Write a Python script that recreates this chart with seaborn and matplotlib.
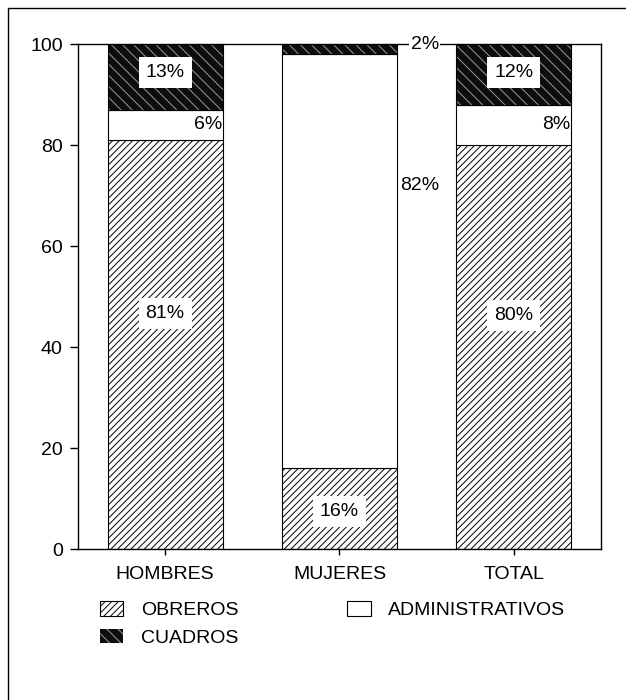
import numpy as np
import pandas as pd
import seaborn as sns
import matplotlib.pyplot as plt
from matplotlib.patches import Patch
from matplotlib.lines import Line2D

grupos = ['HOMBRES', 'MUJERES', 'TOTAL']
obreros = [81, 16, 80]
administrativos = [6, 82, 8]
cuadros = [13, 2, 12]
etiquetas_obreros = ['81%', '16%', '80%']
etiquetas_admin = ['6%', '82%', '8%']
etiquetas_cuadros = ['13%', '2%', '12%']

sns.set_style('ticks')
plt.rcParams['font.family'] = ['Liberation Sans', 'DejaVu Sans']
plt.rcParams['hatch.linewidth'] = 0.7
for k in ['text.color', 'axes.labelcolor', 'xtick.color', 'ytick.color']:
    plt.rcParams[k] = 'black'

fig = plt.figure(figsize=(6.26, 7), dpi=100)
ax = fig.add_axes([0.1246, 0.2157, 0.8354, 0.7213])

base_admin = np.array(obreros)
base_cuadros = np.array(obreros) + np.array(administrativos)

sns.barplot(x=grupos, y=obreros, color='white', edgecolor='black', hatch='/////',
            linewidth=0.8, width=0.66, saturation=1, errorbar=None, ax=ax)
sns.barplot(x=grupos, y=administrativos, bottom=base_admin, color='white',
            edgecolor='black', linewidth=0.8, width=0.66, saturation=1,
            errorbar=None, ax=ax)
# cuadros: negro con rayado claro
sns.barplot(x=grupos, y=cuadros, bottom=base_cuadros, color='#0d0d0d',
            edgecolor='#9a9a9a', hatch='\\\\\\', linewidth=0, width=0.66,
            saturation=1, errorbar=None, ax=ax)
sns.barplot(x=grupos, y=cuadros, bottom=base_cuadros, color='black', fill=False,
            edgecolor='black', linewidth=0.8, width=0.66, errorbar=None, ax=ax)

fs = 14
caja = dict(facecolor='white', edgecolor='none', pad=5)
pos_obreros = [46.7, 7.5, 46.3]
for i in range(3):
    ax.text(i, pos_obreros[i], etiquetas_obreros[i],
            ha='center', va='center', fontsize=fs, bbox=caja)
    if i == 1:
        ax.text(1.46, 71.9, etiquetas_admin[i], ha='center', va='center', fontsize=fs)
        ax.text(1.49, 100, etiquetas_cuadros[i], ha='center', va='center', fontsize=fs,
                bbox=dict(facecolor='white', edgecolor='none', pad=1))
    else:
        ax.text(i + 0.325, 84, etiquetas_admin[i],
                ha='right', va='center', fontsize=fs)
        ax.text(i, 94.3, etiquetas_cuadros[i],
                ha='center', va='center', fontsize=fs, bbox=caja)

ax.set_xlim(-0.5, 2.5)
ax.set_ylim(0, 100)
ax.set_yticks([0, 20, 40, 60, 80, 100])
ax.tick_params(axis='y', direction='out', length=6, width=1, labelsize=fs, pad=5)
ax.tick_params(axis='x', direction='out', length=4, width=1, labelsize=fs, pad=8)
for s in ax.spines.values():
    s.set_visible(True)
    s.set_linewidth(1)
    s.set_color('black')

handles = [
    Patch(facecolor='white', edgecolor='black', hatch='/////', linewidth=0.8, label='OBREROS'),
    Patch(facecolor='#0d0d0d', edgecolor='#9a9a9a', hatch='\\\\\\', linewidth=0, label='CUADROS'),
    Patch(facecolor='white', edgecolor='black', linewidth=0.8, label='ADMINISTRATIVOS'),
]
fig.legend(handles=handles, loc='upper left', bbox_to_anchor=(0.16, 0.141), ncol=2,
           frameon=False, fontsize=fs, handlelength=1.2, handleheight=0.75,
           columnspacing=5.6, labelspacing=0.5, handletextpad=0.9,
           borderpad=0, borderaxespad=0)

# marco de la figura (solo izquierdo y superior)
fig.add_artist(Line2D([0.013, 0.013], [0.0, 0.988], color='black', lw=1))
fig.add_artist(Line2D([0.013, 1.0], [0.988, 0.988], color='black', lw=1))

fig.savefig('out.png', dpi=100)
